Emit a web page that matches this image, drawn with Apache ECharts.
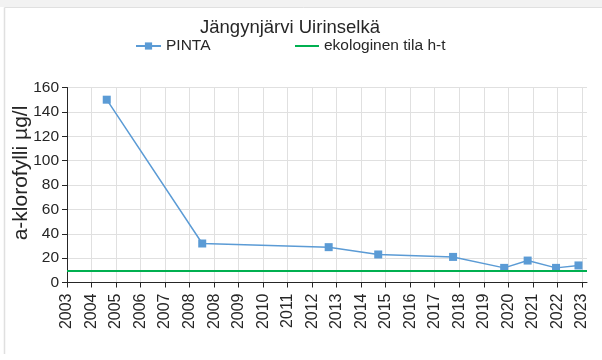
<!DOCTYPE html>
<html>
<head>
<meta charset="utf-8">
<script src="https://cdn.jsdelivr.net/npm/echarts@6/dist/echarts.min.js"></script>
<style>
  html, body { margin: 0; padding: 0; background: #ffffff; }
  #chart { width: 602px; height: 360px; }
</style>
</head>
<body>
<div id="chart"></div>
<script>
// Sampling times (decimal years) and surface chlorophyll-a (µg/l)
const SAMPLE_YEARS = [2004.81, 2008.51, 2013.41, 2015.33, 2018.23, 2020.21, 2021.12, 2022.22, 2023.09];
const PINTA = [150, 32, 29, 23, 21, 12, 18, 12, 14];

// Good/moderate ecological status boundary
const THRESHOLD = 10;

// Date axis: ticks every 0.95 years from the axis start
const AXIS_START = 2003.27;
const TICK_STEP = 0.95;
const AXIS_END = 2023.42;
const TICK_LABELS = ['2003', '2004', '2005', '2006', '2007', '2008', '2008', '2009', '2010', '2011',
  '2012', '2013', '2014', '2015', '2016', '2017', '2018', '2019', '2020', '2021', '2022', '2023'];

const Y_MIN = 0, Y_MAX = 160, Y_STEP = 20;

const tickValues = TICK_LABELS.map((_, i) => +(AXIS_START + i * TICK_STEP).toFixed(4));
const FONT = 'Liberation Sans, Arial, sans-serif';
const TEXT = '#262626';

const chart = echarts.init(document.getElementById('chart'), null, { renderer: 'canvas' });

chart.setOption({
  animation: false,
  backgroundColor: '#ffffff',
  textStyle: { fontFamily: FONT },
  graphic: [
    { type: 'rect', shape: { x: 0, y: 0, width: 602, height: 7 }, style: { fill: '#f2f2f2' }, silent: true },
    { type: 'line', shape: { x1: 4.5, y1: 7.5, x2: 602, y2: 7.5 }, style: { stroke: '#e0e0e0', lineWidth: 1 }, silent: true },
    { type: 'line', shape: { x1: 4.5, y1: 7.5, x2: 4.5, y2: 354 }, style: { stroke: '#e0e0e0', lineWidth: 1.5 }, silent: true }
  ],
  title: {
    text: 'Jängynjärvi Uirinselkä',
    left: 285, top: 13,
    textAlign: 'center',
    textStyle: { fontFamily: FONT, fontSize: 18.5, fontWeight: 'normal', color: TEXT }
  },
  legend: [
    {
      data: ['PINTA'],
      left: 135, top: 38, padding: 0,
      itemWidth: 25, itemHeight: 9, itemGap: 0,
      textStyle: { fontFamily: FONT, fontSize: 15.5, color: TEXT }
    },
    {
      data: [{ name: 'ekologinen tila h-t', icon: 'rect' }],
      left: 295, top: 38, padding: 0,
      itemWidth: 24, itemHeight: 2,
      textStyle: { fontFamily: FONT, fontSize: 15.5, color: TEXT }
    }
  ],
  grid: { left: 67, right: 15, top: 87.5, bottom: 77.5, containLabel: false, outerBoundsMode: 'none' },
  xAxis: {
    type: 'value',
    min: AXIS_START,
    max: AXIS_END,
    axisLine: { show: true, onZero: false, lineStyle: { color: '#262626', width: 1 } },
    axisTick: { show: true, length: 5, customValues: tickValues, lineStyle: { color: '#262626' } },
    axisLabel: {
      customValues: tickValues,
      rotate: 90,
      margin: 11,
      fontFamily: FONT, fontSize: 16, color: TEXT,
      formatter: (v) => TICK_LABELS[Math.round((v - AXIS_START) / TICK_STEP)] || ''
    },
    splitLine: { show: true, lineStyle: { color: '#e0e0e0', width: 1 } }
  },
  yAxis: {
    type: 'value',
    min: Y_MIN, max: Y_MAX, interval: Y_STEP,
    name: 'a-klorofylli µg/l',
    nameLocation: 'middle',
    nameRotate: 90,
    nameGap: 35,
    nameMoveOverlap: false,
    nameTextStyle: { fontFamily: FONT, fontSize: 21, color: TEXT, padding: [0, 0, 0, 24] },
    axisLine: { show: true, lineStyle: { color: '#262626', width: 1 } },
    axisTick: { show: true, length: 5, lineStyle: { color: '#262626' } },
    axisLabel: { margin: 8, fontFamily: FONT, fontSize: 15.5, color: TEXT },
    splitLine: { show: true, lineStyle: { color: '#e0e0e0', width: 1 } }
  },
  series: [
    {
      name: 'PINTA',
      type: 'line',
      data: SAMPLE_YEARS.map((yr, i) => [yr, PINTA[i]]),
      symbol: 'rect',
      symbolSize: 8,
      lineStyle: { color: '#5b9bd5', width: 1.5 },
      itemStyle: { color: '#5b9bd5' },
      z: 3
    },
    {
      name: 'ekologinen tila h-t',
      type: 'line',
      data: [],
      symbol: 'none',
      lineStyle: { color: '#00b050', width: 2 },
      itemStyle: { color: '#00b050' },
      markLine: {
        silent: true,
        symbol: ['none', 'none'],
        label: { show: false },
        lineStyle: { color: '#00b050', width: 2, type: 'solid' },
        data: [{ yAxis: THRESHOLD }]
      },
      z: 2
    }
  ]
});
</script>
</body>
</html>
